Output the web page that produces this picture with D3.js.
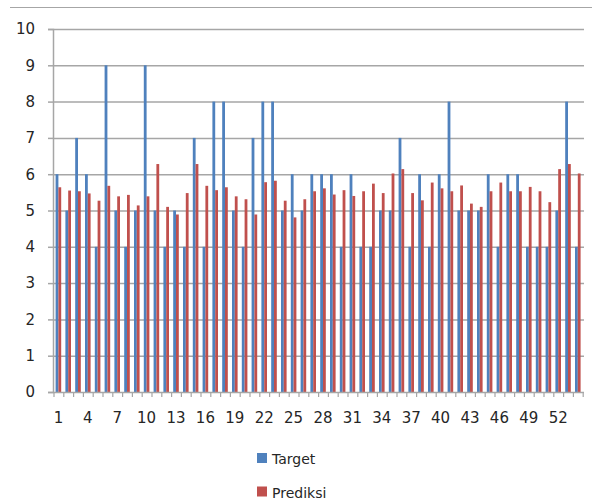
<!DOCTYPE html>
<html>
<head>
<meta charset="utf-8">
<script src="https://cdn.jsdelivr.net/npm/d3@7/dist/d3.min.js"></script>
<style>
  html, body { margin: 0; padding: 0; background: #ffffff; }
  svg { display: block; }
  text { font-family: "DejaVu Sans", Verdana, sans-serif; fill: #262626; }
</style>
</head>
<body>
<script>
// Observation numbers along the x axis
const categories = [1,2,3,4,5,6,7,8,9,10,11,12,13,14,15,16,17,18,19,20,21,22,23,24,25,26,27,
  28,29,30,31,32,33,34,35,36,37,38,39,40,41,42,43,44,45,46,47,48,49,50,51,52,53,54];

// Actual target values
const target = [6,5,7,6,4,9,5,4,5,9, 5,4,5,4,7,4,8,8,5,4, 7,8,8,5,6,5,6,6,6,4,
  6,4,4,5,5,7,4,6,4,6, 8,5,5,5,6,4,6,6,4,4, 4,5,8,4];

// Model predictions
const prediksi = [5.64,5.55,5.53,5.47,5.27,5.68,5.39,5.43,5.14,5.39,
  6.28,5.10,4.89,5.48,6.28,5.68,5.56,5.64,5.39,5.31,
  4.89,5.78,5.82,5.27,4.81,5.31,5.53,5.61,5.44,5.56,
  5.40,5.53,5.74,5.48,6.02,6.14,5.48,5.28,5.77,5.61,
  5.53,5.69,5.19,5.10,5.53,5.77,5.53,5.53,5.65,5.53,
  5.23,6.14,6.28,6.02];

const seriesNames = ["Target", "Prediksi"];
const seriesColors = ["#4f81bd", "#c0504d"];
const yTicks = [0,1,2,3,4,5,6,7,8,9,10];
const xLabelTicks = [1,4,7,10,13,16,19,22,25,28,31,34,37,40,43,46,49,52];

const W = 599, H = 499;
const plot = { left: 53, right: 584, top: 29, bottom: 392 };

const svg = d3.select("body").append("svg")
  .attr("width", W).attr("height", H);

// outer chart frame edge
svg.append("line")
  .attr("x1", 10).attr("x2", 592).attr("y1", 7.5).attr("y2", 7.5)
  .attr("stroke", "#a6a6a6").attr("stroke-width", 1.2);

const y = d3.scaleLinear().domain([0, 10]).range([plot.bottom, plot.top]);

const x0 = d3.scaleBand().domain(categories)
  .range([plot.left + 0.5, plot.right - 1.3])
  .paddingInner(1.5 / 3.5).paddingOuter(0.75 / 3.5);

const x1 = d3.scaleBand().domain(seriesNames).range([0, x0.bandwidth()]).padding(0);

// horizontal gridlines
svg.append("g")
  .attr("transform", `translate(${plot.left},0)`)
  .call(d3.axisLeft(y).tickValues(yTicks.slice(1)).tickSize(-(plot.right - plot.left)).tickFormat(""))
  .call(g => g.select(".domain").remove())
  .call(g => g.selectAll("line").attr("stroke", "#a6a6a6").attr("stroke-width", 1.5));

// bars
const rows = categories.map((c, i) => ({ c, vals: [target[i], prediksi[i]] }));
const groups = svg.append("g").selectAll("g").data(rows).join("g")
  .attr("transform", d => `translate(${x0(d.c)},0)`);
groups.selectAll("rect")
  .data(d => d.vals.map((v, k) => ({ k, v })))
  .join("rect")
  .attr("x", d => x1(seriesNames[d.k]))
  .attr("width", x1.bandwidth())
  .attr("y", d => y(d.v))
  .attr("height", d => y(0) - y(d.v))
  .attr("fill", d => seriesColors[d.k]);

// y axis
svg.append("g")
  .attr("transform", `translate(${plot.left},0)`)
  .call(d3.axisLeft(y).tickValues(yTicks).tickSize(5).tickPadding(13))
  .call(g => g.select(".domain").attr("stroke", "#a6a6a6").attr("stroke-width", 1.5))
  .call(g => g.selectAll(".tick line").attr("stroke", "#a6a6a6").attr("stroke-width", 1.5))
  .call(g => g.selectAll("text").style("font-size", "15px").attr("fill", "#262626")
    .style("font-family", "'DejaVu Sans', Verdana, sans-serif"));

// x axis: boundary tick marks between categories
const xb = d3.scaleLinear().domain([0, categories.length]).range([plot.left + 0.5, plot.right - 1.3]);
svg.append("g")
  .attr("transform", `translate(0,${plot.bottom})`)
  .call(d3.axisBottom(xb).tickValues(d3.range(0, categories.length + 1)).tickSize(5).tickFormat(""))
  .call(g => g.select(".domain").attr("stroke", "#a6a6a6").attr("stroke-width", 1.5)
    .attr("d", `M${plot.left},0.5H${plot.right}`))
  .call(g => g.selectAll(".tick line").attr("stroke", "#a6a6a6").attr("stroke-width", 1.2));

// x axis labels
svg.append("g")
  .attr("transform", `translate(0,${plot.bottom})`)
  .call(d3.axisBottom(x0).tickValues(xLabelTicks).tickSize(0).tickPadding(20))
  .call(g => g.select(".domain").remove())
  .call(g => g.selectAll("text").style("font-size", "15px").attr("fill", "#262626")
    .style("font-family", "'DejaVu Sans', Verdana, sans-serif"));

// legend
const legend = svg.append("g").selectAll("g").data(seriesNames).join("g")
  .attr("transform", (d, i) => `translate(257,${453 + i * 33.5})`);
legend.append("rect").attr("width", 10).attr("height", 10)
  .attr("fill", (d, i) => seriesColors[i]);
legend.append("text").attr("x", 15).attr("y", 11)
  .style("font-size", "14px").text(d => d);
</script>
</body>
</html>
